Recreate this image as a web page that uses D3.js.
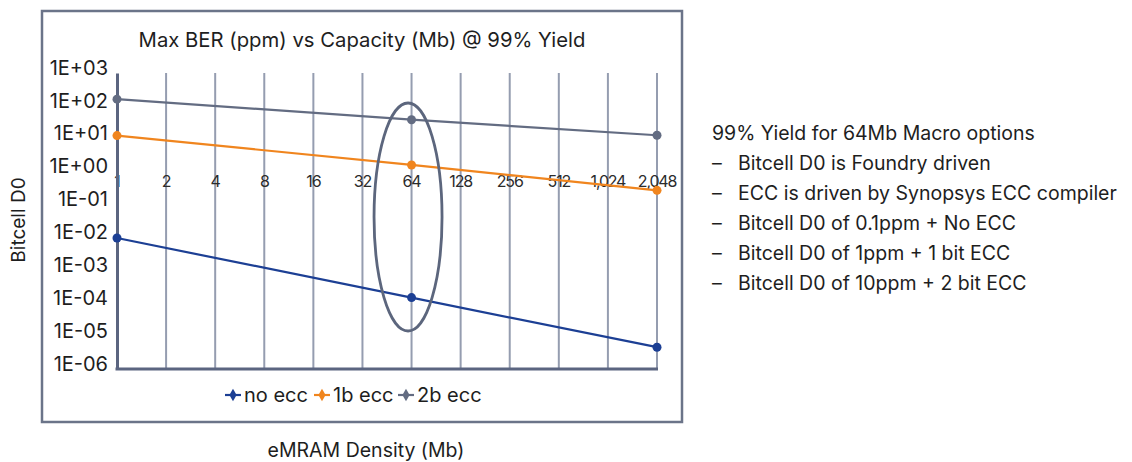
<!DOCTYPE html>
<html>
<head>
<meta charset="utf-8">
<script src="https://cdn.jsdelivr.net/npm/d3@7"></script>
<style>
  html, body { margin: 0; padding: 0; background: #fff; }
  svg { display: block; font-family: Inter, Roboto, "Noto Sans", sans-serif; }
</style>
</head>
<body>
<svg id="chart" width="1132" height="462"></svg>
<script>
// Capacity categories (Mb) on the horizontal axis
const capacities = [1, 2, 4, 8, 16, 32, 64, 128, 256, 512, 1024, 2048];
// Capacities where each series is sampled
const sampleCaps = [1, 64, 2048];
// Max BER (ppm) at 99% yield for each ECC option
const noEcc = [0.0096, 0.000148, 0.0000046];
const oneBitEcc = [12.5, 1.6, 0.27];
const twoBitEcc = [160, 38, 12.8];
const seriesNames = ["no ecc", "1b ecc", "2b ecc"];
// Log axis tick values and their labels
const yTicks = [1e3, 1e2, 1e1, 1e0, 1e-1, 1e-2, 1e-3, 1e-4, 1e-5, 1e-6];
const yTickLabels = ["1E+03", "1E+02", "1E+01", "1E+00", "1E-01", "1E-02", "1E-03", "1E-04", "1E-05", "1E-06"];
const notes = [
  "99% Yield for 64Mb Macro options",
  "Bitcell D0 is Foundry driven",
  "ECC is driven by Synopsys ECC compiler",
  "Bitcell D0 of 0.1ppm + No ECC",
  "Bitcell D0 of 1ppm + 1 bit ECC",
  "Bitcell D0 of 10ppm + 2 bit ECC"
];

const FONT = "Inter, Roboto, sans-serif";
const colors = ["#1c3f94", "#f0851e", "#636c82"];
const svg = d3.select("#chart");

// Chart frame
svg.append("rect")
  .attr("x", 42).attr("y", 11).attr("width", 640).attr("height", 411)
  .attr("fill", "none").attr("stroke", "#6b7489").attr("stroke-width", 2.5);

const x = d3.scalePoint().domain(capacities).range([117, 657]);
const y = d3.scaleLog().domain([1e-6, 1e3]).range([369, 73]);

// Vertical gridlines at every capacity category
svg.append("g").selectAll("line")
  .data(capacities.slice(1))
  .join("line")
  .attr("x1", d => x(d)).attr("x2", d => x(d))
  .attr("y1", y(1e3)).attr("y2", y(1e-6))
  .attr("stroke", "#959db0").attr("stroke-width", 2);

// Category labels, placed where the axis crosses at 1E+00
svg.append("g").selectAll("text")
  .data(capacities)
  .join("text")
  .attr("x", d => x(d))
  .attr("y", y(1) + 15)
  .attr("text-anchor", "middle")
  .attr("font-family", FONT)
  .attr("font-size", 16)
  .attr("letter-spacing", -1.2)
  .attr("fill", "#2b2b2b")
  .text(d => d3.format(",")(d));

// Left value axis
const yAxis = d3.axisLeft(y).tickValues(yTicks)
  .tickFormat((d, i) => yTickLabels[i]).tickSize(0).tickPadding(9);
const gy = svg.append("g").attr("transform", `translate(${x(1)},0)`).call(yAxis);
gy.attr("font-family", FONT).attr("font-size", 20);
gy.select(".domain").attr("stroke", "#5b6580").attr("stroke-width", 3);
gy.selectAll("text")
  .attr("font-size", 20).attr("fill", "#1e1e1e")
  .attr("font-family", FONT)
  .attr("dy", "0.06em");

// Bottom baseline
svg.append("line")
  .attr("x1", x(1) - 1.5).attr("x2", x(2048) + 1)
  .attr("y1", y(1e-6)).attr("y2", y(1e-6))
  .attr("stroke", "#5b6580").attr("stroke-width", 3);

// Series lines with markers
const allSeries = [noEcc, oneBitEcc, twoBitEcc];
const line = d3.line().x(d => x(d[0])).y(d => y(d[1]));
allSeries.forEach((vals, i) => {
  const pts = sampleCaps.map((c, j) => [c, vals[j]]);
  svg.append("path").datum(pts)
    .attr("d", line).attr("fill", "none")
    .attr("stroke", colors[i]).attr("stroke-width", 2.2);
  svg.append("g").selectAll("circle").data(pts).join("circle")
    .attr("cx", d => x(d[0])).attr("cy", d => y(d[1]))
    .attr("r", 4.5).attr("fill", colors[i]);
});

// Highlight around the 64Mb options
svg.append("ellipse")
  .attr("cx", x(64) - 3.5).attr("cy", 217)
  .attr("rx", 34).attr("ry", 114)
  .attr("fill", "none").attr("stroke", "#5c667d").attr("stroke-width", 2.8);

// Title
svg.append("text")
  .attr("x", 362).attr("y", 47)
  .attr("text-anchor", "middle").attr("font-family", FONT)
  .attr("font-size", 20.3).attr("fill", "#1e1e1e")
  .text("Max BER (ppm) vs Capacity (Mb) @ 99% Yield");

// Legend
const legendX = [233, 322, 406];
seriesNames.forEach((name, i) => {
  const g = svg.append("g").attr("transform", `translate(${legendX[i]},395)`);
  g.append("line").attr("x1", -8).attr("x2", 8).attr("y1", 0).attr("y2", 0)
    .attr("stroke", colors[i]).attr("stroke-width", 2.2);
  g.append("path").attr("d", d3.symbol(d3.symbolDiamond, 45)())
    .attr("fill", colors[i]);
  g.append("text").attr("x", 11).attr("y", 7)
    .attr("font-family", FONT)
    .attr("font-size", 20).attr("fill", "#1e1e1e").text(name);
});

// Axis titles
svg.append("text")
  .attr("transform", "translate(25,220) rotate(-90)")
  .attr("text-anchor", "middle").attr("font-family", FONT)
  .attr("font-size", 19).attr("fill", "#1e1e1e")
  .text("Bitcell D0");
svg.append("text")
  .attr("x", 366).attr("y", 457)
  .attr("text-anchor", "middle").attr("font-family", FONT)
  .attr("font-size", 19.5).attr("fill", "#1e1e1e")
  .text("eMRAM Density (Mb)");

// Notes beside the chart
const nt = svg.append("g").attr("font-family", FONT).attr("font-size", 19.5).attr("fill", "#1e1e1e");
notes.forEach((t, i) => {
  const yy = 140 + i * 30;
  if (i === 0) {
    nt.append("text").attr("x", 712).attr("y", yy).text(t);
  } else {
    nt.append("text").attr("x", 712).attr("y", yy).text("–");
    nt.append("text").attr("x", 738).attr("y", yy).text(t);
  }
});
</script>
</body>
</html>
